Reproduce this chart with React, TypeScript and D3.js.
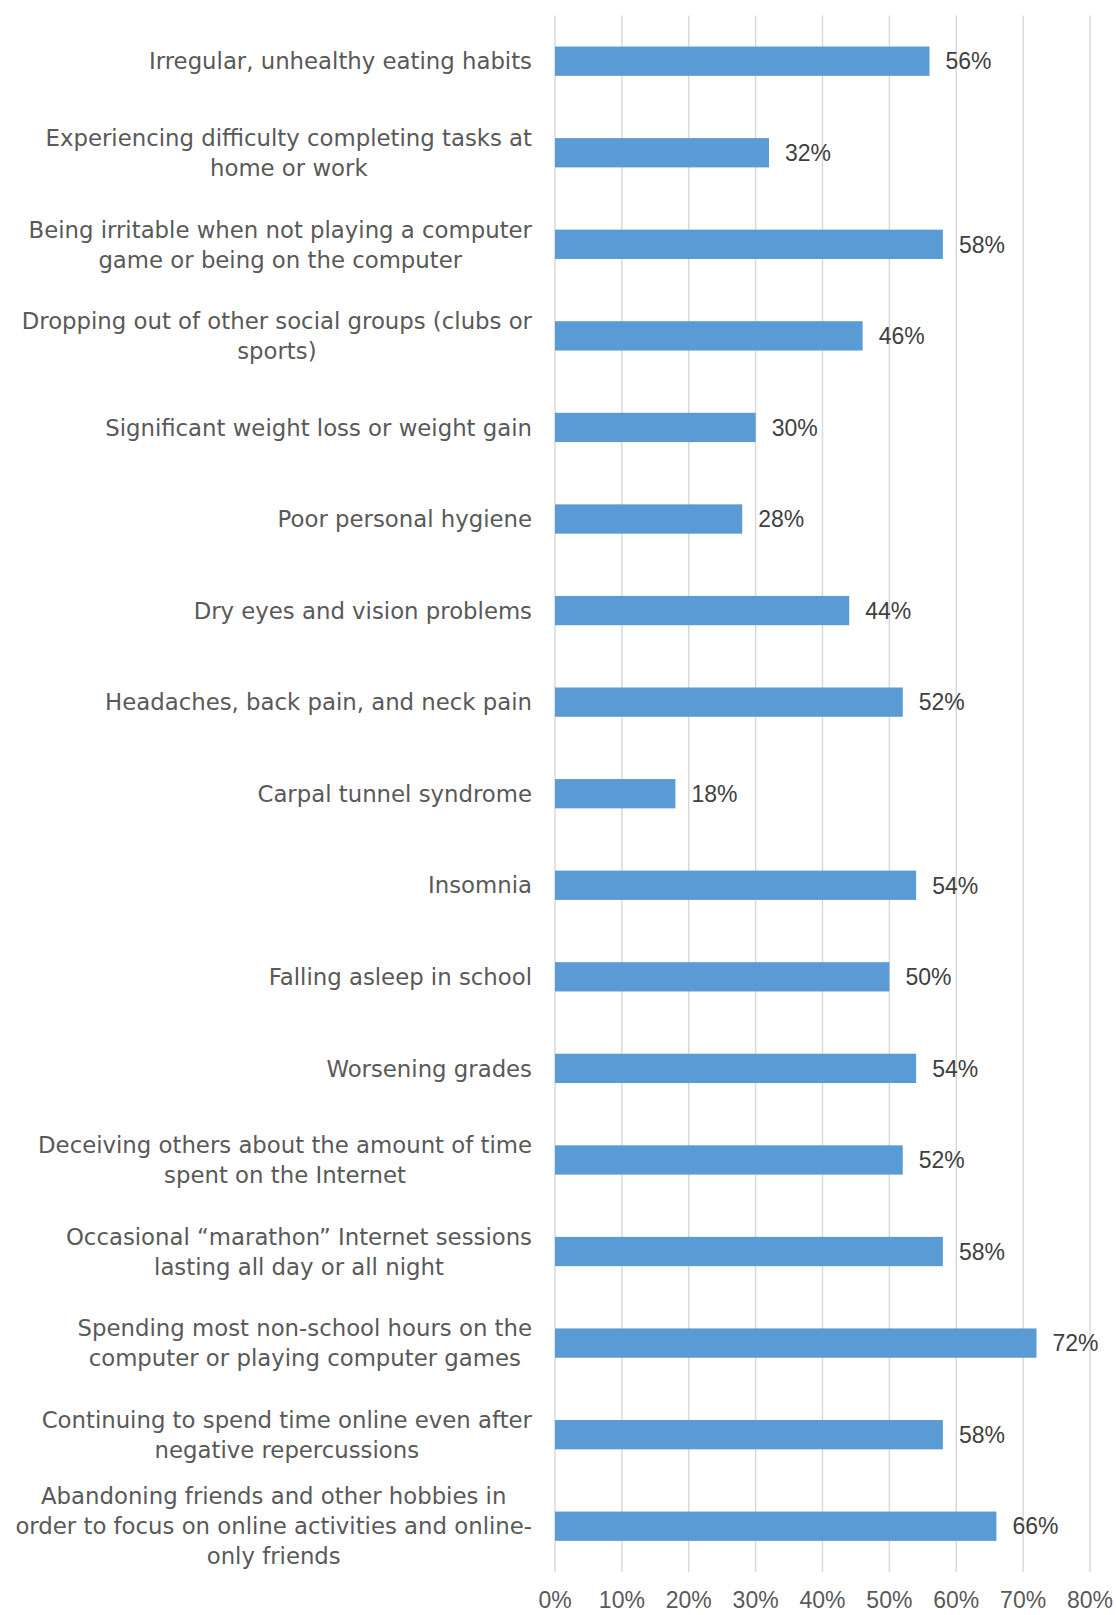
import React, { useEffect, useRef } from "react";
import * as d3 from "d3";

const categories: string[] = [
  "Irregular, unhealthy eating habits",
  "Experiencing difficulty completing tasks at\nhome or work",
  "Being irritable when not playing a computer\ngame or being on the computer",
  "Dropping out of other social groups (clubs or\nsports)",
  "Significant weight loss or weight gain",
  "Poor personal hygiene",
  "Dry eyes and vision problems",
  "Headaches, back pain, and neck pain",
  "Carpal tunnel syndrome",
  "Insomnia",
  "Falling asleep in school",
  "Worsening grades",
  "Deceiving others about the amount of time\nspent on the Internet",
  "Occasional \u201cmarathon\u201d Internet sessions\nlasting all day or all night",
  "Spending most non-school hours on the\ncomputer or playing computer games",
  "Continuing to spend time online even after\nnegative repercussions",
  "Abandoning friends and other hobbies in\norder to focus on online activities and online-\nonly friends",
];

const values: number[] = [0.56, 0.32, 0.58, 0.46, 0.30, 0.28, 0.44, 0.52, 0.18, 0.54, 0.50, 0.54, 0.52, 0.58, 0.72, 0.58, 0.66];

const xTicks: number[] = [0, 0.1, 0.2, 0.3, 0.4, 0.5, 0.6, 0.7, 0.8];

const W = 1116;
const H = 1615;
const LABEL_FONT = "'DejaVu Sans', Verdana, sans-serif";
const NUM_FONT = "'Liberation Sans', Arial, sans-serif";
const TEXT = "#595959";

export default function App() {
  const ref = useRef<SVGSVGElement | null>(null);

  useEffect(() => {
    const svg = d3.select(ref.current);
    svg.selectAll("*").remove();

    const left = 555;
    const right = 1090;
    const top = 15.4;
    const bottom = 1572;

    const x = d3.scaleLinear().domain([0, 0.8]).range([left, right]);
    const y = d3
      .scaleBand<number>()
      .domain(d3.range(categories.length))
      .range([top, bottom])
      .paddingInner(0.68)
      .paddingOuter(0.34);

    const fmt = d3.format(".0%");

    // gridlines
    svg
      .append("g")
      .selectAll("line")
      .data(xTicks)
      .join("line")
      .attr("x1", (d) => x(d))
      .attr("x2", (d) => x(d))
      .attr("y1", top)
      .attr("y2", bottom)
      .attr("stroke", "#D9D9D9")
      .attr("stroke-width", 1.5);

    // bars
    svg
      .append("g")
      .selectAll("rect")
      .data(values)
      .join("rect")
      .attr("x", x(0))
      .attr("y", (_, i) => y(i)!)
      .attr("width", (d) => x(d) - x(0))
      .attr("height", y.bandwidth())
      .attr("fill", "#5B9BD5");

    // value labels
    svg
      .append("g")
      .selectAll("text")
      .data(values)
      .join("text")
      .attr("x", (d) => x(d) + 16)
      .attr("y", (_, i) => y(i)! + y.bandwidth() / 2)
      .attr("dy", "0.36em")
      .attr("font-family", NUM_FONT)
      .attr("font-size", 23)
      .attr("fill", "#404040")
      .text((d) => fmt(d));

    // x tick labels
    svg
      .append("g")
      .selectAll("text")
      .data(xTicks)
      .join("text")
      .attr("x", (d) => x(d))
      .attr("y", 1600)
      .attr("dy", "0.36em")
      .attr("text-anchor", "middle")
      .attr("font-family", NUM_FONT)
      .attr("font-size", 23)
      .attr("fill", TEXT)
      .text((d) => fmt(d));

    // category labels: centered lines in a right-aligned block
    const lineH = 30;
    const labelRight = 532;
    const g = svg.append("g");
    categories.forEach((c, i) => {
      const lines = c.split("\n");
      const cy = y(i)! + y.bandwidth() / 2;
      const t = g
        .append("text")
        .attr("font-family", LABEL_FONT)
        .attr("font-size", 22.8)
        .attr("fill", TEXT)
        .attr("text-anchor", "middle");
      const spans = lines.map((ln, k) =>
        t
          .append("tspan")
          .attr("y", cy + (k - (lines.length - 1) / 2) * lineH)
          .attr("dy", "0.36em")
          .text(ln)
      );
      const widths = spans.map((s) => (s.node() as SVGTSpanElement).getComputedTextLength());
      const maxW = d3.max(widths) || 0;
      spans.forEach((s) => s.attr("x", labelRight - maxW / 2));
    });
  }, []);

  return (
    <svg
      ref={ref}
      width={W}
      height={H}
      style={{ position: "absolute", left: 0, top: 0, background: "#fff" }}
    />
  );
}
